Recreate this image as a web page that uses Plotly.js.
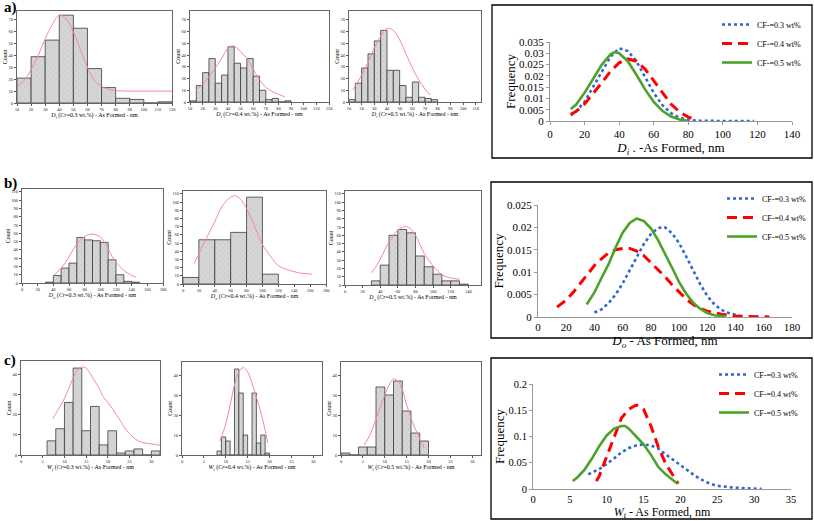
<!DOCTYPE html>
<html><head><meta charset="utf-8">
<script src="https://cdn.plot.ly/plotly-3.0.1.min.js"></script>
<style>html,body{margin:0;padding:0;background:#fff}#chart{width:814px;height:521px}</style>
</head><body><div id="chart"></div>
<script>
// ---------- Row a : inner diameter histograms ----------
const a1Bins=[10,20,30,40,50,60,70,80,90,100,110];
const a1Counts=[21,39,53,74,63,29,13,4,3,0,1];
const a1FitX=[11,15,20,25,30,35,40,45,50,55,60,65,70,75,80,90,100,110,120];
const a1FitY=[14.5,19,28,40,54,66,74,71,60,45,30,19,14,11.5,10.5,10,10,10,10];

const a2Bins=[10,15,20,25,30,35,40,45,50,55,60,65,70,75,80,85];
const a2Counts=[1,14,25,37,16,23,47,33,29,37,22,10,2,3,0,1];
const a2FitX=[14.5,20,25,30,35,40,43,46,50,55,60,65,70,75,80,85];
const a2FitY=[10,15,21.5,29,37,46,47.7,47,43,37,28,19,12.5,9,6.5,4.5];

const a3Bins=[10,15,20,25,30,35,40,45,50,55,60,65,70,75];
const a3Counts=[2,16,29,41,52,61,27,27,14,4,17,4,3,2];
const a3FitX=[13,20,25,30,35,40,45,50,55,60,65,70,74];
const a3FitY=[10,23,34,46,56,62.5,61,53,41,29,19,11,6];

// ---------- Row b : outer diameter histograms ----------
const b1Bins=[30,40,50,60,70,80,90,100,110,120,130,140];
const b1Counts=[1,9,18,24,55,52,51,49,28,10,2,1];
const b1FitX=[40,45,50,55,60,65,70,75,80,85,90,95,100,105,110,115,120,125,130,135,140,146];
const b1FitY=[9,13,18,24,32,40,47,52,56,58.5,59,58,55.5,50,41,32,25,20,15,12,9,7];

const b2Bins=[0,20,40,60,80,100];
const b2Counts=[8,54,54,63,106,12];
const b2FitX=[14,20,30,40,50,60,66,72,80,90,100,110,120,130,140,150,162];
const b2FitY=[25,37,57,76,96,106,107.5,104,92,71,48,34,22.5,18,15,13,12];

const b3Bins=[30,40,50,60,70,80,90,100,110,120,130];
const b3Counts=[5,24,60,67,63,35,22,13,5,5,1];
const b3FitX=[30,35,40,45,50,55,60,65,70,75,80,85,90,95,100,105,110,115,120,125,130];
const b3FitY=[15,22,31,42,52,60,66,69.5,70.5,67,60,49,38,30,23,17,12.5,10,8.5,7.5,7];

// ---------- Row c : wall thickness histograms ----------
const c1Bins=[6,8,10,12,14,16,18,20,22,24,26,28,30];
const c1Counts=[7,13,26,43,12,24,5,12,1,2,3,0,2];
const c1FitX=[7.3,8,9,10,11,12,13,14,15,16,17,18,19,20,21,22,23,24,25,26,27,28,29,30,32];
const c1FitY=[18,20.5,24,28,33,38,42,43.5,43,40,36.5,33,28.5,26,23,19.7,16.5,13,10.5,8.5,7,6.2,5.8,5.5,4.8];

const c2Bins=[8,9,10,11,12,13,14,15,16,17,18,19];
const c2Counts=[2,9,7,0,43,31,10,0,31,6,10,1];
const c2FitX=[8.6,9,10,11,12,13,14,15,16,17,18,19,19.6];
const c2FitY=[7,9,15.5,25,35,41.5,43.7,41.5,36,29,21.5,12.5,6];

const c3Bins=[0,2,4,6,8,10,12,14,16,18];
const c3Counts=[1,0,4,4,34,30,37,22,11,7];
const c3FitX=[5.3,6,7,8,9,10,11,12,13,14,15,16,17,18,19];
const c3FitY=[5,7.5,12,18,24,30,35,38,37,33,25,18.5,13,8,3.5];

// ---------- Frequency curves ----------
const seriesNames=['CF-=0.3 wt%','CF-=0.4 wt%','CF-=0.5 wt%'];

const aBlueX=[12,15,20,25,30,35,40,45,50,55,60,65,70,75,80,85,90,100,110,118];
const aBlueY=[0.0025,0.0042,0.0085,0.015,0.022,0.0285,0.0322,0.031,0.0265,0.0195,0.0125,0.007,0.0035,0.0014,0.0005,0.0001,0,0,0,0];
const aRedX=[12,15,20,25,30,35,40,45,50,55,60,65,70,75,80,85];
const aRedY=[0.003,0.0042,0.0075,0.012,0.017,0.022,0.0258,0.0275,0.0265,0.023,0.018,0.0125,0.0075,0.004,0.0017,0.0005];
const aGreenX=[12,15,20,25,30,35,37.5,40,45,50,55,60,65,70,75,79];
const aGreenY=[0.0053,0.0072,0.0125,0.019,0.025,0.0295,0.0305,0.03,0.0265,0.0205,0.014,0.0085,0.0045,0.002,0.0007,0.0002];

const bBlueX=[40,45,50,55,60,65,70,75,80,85,88,90,95,100,105,110,115,120,125,130,135,140,143];
const bBlueY=[0.001,0.0017,0.0031,0.005,0.0075,0.0105,0.0135,0.0163,0.0185,0.0198,0.0201,0.02,0.0187,0.0165,0.0135,0.0103,0.0073,0.0047,0.0028,0.0016,0.0009,0.0005,0.0003];
const bRedX=[13.5,20,25,30,35,40,45,50,55,60,65,70,75,80,85,90,95,100,105,110,115,120,130,140,150,164];
const bRedY=[0.0022,0.0038,0.0055,0.0075,0.0095,0.0115,0.013,0.0143,0.015,0.0153,0.0153,0.0147,0.0137,0.0122,0.0107,0.009,0.0072,0.0055,0.004,0.0028,0.0019,0.0013,0.0006,0.0002,0.0001,0];
const bGreenX=[34.5,40,45,50,55,60,65,70,75,80,85,90,95,100,105,110,115,120,125,133];
const bGreenY=[0.0028,0.0055,0.0087,0.0118,0.0155,0.0188,0.021,0.022,0.0214,0.0198,0.0172,0.0142,0.011,0.0078,0.0052,0.0032,0.0018,0.0009,0.0004,0.0001];

const cBlueX=[7.5,8,9,10,11,12,13,14,15,16,17,18,19,20,21,22,23,24,25,26,27,28,29,30,31];
const cBlueY=[0.028,0.031,0.038,0.048,0.058,0.07,0.078,0.083,0.085,0.083,0.077,0.066,0.056,0.045,0.035,0.025,0.017,0.01,0.006,0.004,0.003,0.002,0.001,0.0004,0.0002];
const cRedX=[8.6,9,10,11,12,13,14,14.5,15,16,17,18,19,19.7];
const cRedY=[0.015,0.025,0.062,0.1,0.135,0.152,0.16,0.158,0.152,0.12,0.08,0.048,0.024,0.01];
const cGreenX=[5.4,6,7,8,9,10,11,12,12.5,13,14,15,16,17,18,19,19.6];
const cGreenY=[0.015,0.022,0.037,0.058,0.082,0.102,0.115,0.12,0.12,0.115,0.1,0.085,0.065,0.042,0.028,0.016,0.01];

// ---------- Layout helpers ----------
const W=814,H=521;
const FONT='Liberation Serif, Times New Roman, serif';
const xdom=(l,r)=>[l/W,r/W];
const ydom=(t,b)=>[1-b/H,1-t/H];

const hists=[
 {n:1,px:[17,172],py:[11,103],xr:[10,120],xd:10,yr:[0,77.5],yd:10,bins:a1Bins,counts:a1Counts,bw:10,fx:a1FitX,fy:a1FitY,t:'<i>D<sub>i</sub></i> (<i>Cr</i>=0.3 wt.%) - As Formed - nm'},
 {n:2,px:[190,329],py:[11,102],xr:[10,120],xd:10,yr:[0,77.5],yd:10,bins:a2Bins,counts:a2Counts,bw:5,fx:a2FitX,fy:a2FitY,t:'<i>D<sub>i</sub></i> (<i>Cr</i>=0.4 wt.%) - As Formed - nm'},
 {n:3,px:[349,481],py:[11,102],xr:[10,114.2],xd:10,yr:[0,77.5],yd:10,bins:a3Bins,counts:a3Counts,bw:5,fx:a3FitX,fy:a3FitY,t:'<i>D<sub>i</sub></i> (<i>Cr</i>=0.5 wt.%) - As Formed - nm'},
 {n:5,px:[22,163],py:[189,283],xr:[0,180],xd:20,yr:[0,113.5],yd:10,bins:b1Bins,counts:b1Counts,bw:10,fx:b1FitX,fy:b1FitY,t:'<i>D<sub>o</sub></i> (<i>Cr</i>=0.3 wt.%) - As Formed - nm'},
 {n:6,px:[183,326],py:[191,284],xr:[0,180],xd:20,yr:[0,113.5],yd:10,bins:b2Bins,counts:b2Counts,bw:20,fx:b2FitX,fy:b2FitY,t:'<i>D<sub>o</sub></i> (<i>Cr</i>=0.4 wt.%) - As Formed - nm'},
 {n:7,px:[345,481],py:[191,285],xr:[0,154.4],xd:20,yr:[0,113.5],yd:10,bins:b3Bins,counts:b3Counts,bw:10,fx:b3FitX,fy:b3FitY,t:'<i>D<sub>o</sub></i> (<i>Cr</i>=0.5 wt.%) - As Formed - nm'},
 {n:9,px:[21,160],py:[361,455],xr:[0,32],xd:5,yr:[0,46.5],yd:10,bins:c1Bins,counts:c1Counts,bw:2,fx:c1FitX,fy:c1FitY,t:'<i>W<sub>t</sub></i> (<i>Cr</i>=0.3 wt.%) - As Formed - nm'},
 {n:10,px:[182,322],py:[362,455],xr:[0,32],xd:5,yr:[0,46.5],yd:10,bins:c2Bins,counts:c2Counts,bw:1,fx:c2FitX,fy:c2FitY,t:'<i>W<sub>t</sub></i> (<i>Cr</i>=0.4 wt.%) - As Formed - nm'},
 {n:11,px:[341,481],py:[362,455],xr:[0,32],xd:5,yr:[0,46.5],yd:10,bins:c3Bins,counts:c3Counts,bw:2,fx:c3FitX,fy:c3FitY,t:'<i>W<sub>t</sub></i> (<i>Cr</i>=0.5 wt.%) - As Formed - nm'}
];

const freqs=[
 {n:4,px:[550,792],py:[42,121],xr:[0,140],xd:20,yr:[0,0.035],yd:0.005,leg:'legend',xticks:'outside',tfs:11,tsize:13,tstand:3,
  xs:[aBlueX,aRedX,aGreenX],ys:[aBlueY,aRedY,aGreenY],t:'<i>D<sub>i</sub></i> . -As Formed, nm',frame:[492,812,5,158]},
 {n:8,px:[538,792],py:[205,317],xr:[0,180],xd:20,yr:[0,0.025],yd:0.005,leg:'legend2',xticks:'',tfs:11,tsize:13,tstand:0,
  xs:[bBlueX,bRedX,bGreenX],ys:[bBlueY,bRedY,bGreenY],t:'<i>D<sub>o</sub></i> - As Formed, nm',frame:[491,812,182,338]},
 {n:12,px:[533,791],py:[384,489],xr:[0,35],xd:5,yr:[0,0.2],yd:0.05,leg:'legend3',xticks:'',tfs:10.5,tsize:12,tstand:1,
  xs:[cBlueX,cRedX,cGreenX],ys:[cBlueY,cRedY,cGreenY],t:'<i>W<sub>t</sub></i> - As Formed, nm',frame:[491,812,358,519]}
];

const lineStyles=[
 {color:'#3366cc',width:2.6,dash:'dot'},
 {color:'#ff0000',width:3,dash:'10px,6px'},
 {color:'#4da32a',width:2.6,dash:'solid'}
];

const traces=[];
const layout={
 width:W,height:H,margin:{l:0,r:0,t:0,b:0},
 paper_bgcolor:'#fff',plot_bgcolor:'#fff',
 font:{family:FONT,color:'#000'},
 hovermode:false,bargap:0,showlegend:true,
 shapes:[],annotations:[]
};
const key=(p,n)=>p+'axis'+(n===1?'':n);

hists.forEach(h=>{
 traces.push({type:'bar',x:h.bins,y:h.counts,width:h.bw,offset:0,
  xaxis:'x'+h.n,yaxis:'y'+h.n,showlegend:false,
  marker:{color:'#d6d6d6',line:{color:'#3a3a3a',width:0.8},
   pattern:{shape:'x',fillmode:'overlay',fgcolor:'#9a9a9a',size:4,solidity:0.12}}});
 traces.push({type:'scatter',mode:'lines',x:h.fx,y:h.fy,line:{color:'#f58a9b',width:1,shape:'spline'},
  xaxis:'x'+h.n,yaxis:'y'+h.n,showlegend:false});
 layout[key('x',h.n)]={domain:xdom(...h.px),range:h.xr,dtick:h.xd,tick0:0,anchor:'y'+h.n,
  showline:true,mirror:true,linecolor:'#666',linewidth:1,ticks:'outside',ticklen:2,tickcolor:'#555',
  showgrid:false,zeroline:false,tickfont:{size:4.5,family:FONT,color:'#222'},
  title:{text:h.t,font:{size:6,family:FONT},standoff:1}};
 layout[key('y',h.n)]={domain:ydom(...h.py),range:h.yr,dtick:h.yd,anchor:'x'+h.n,
  showline:true,mirror:true,linecolor:'#666',linewidth:1,ticks:'outside',ticklen:2,tickcolor:'#555',
  showgrid:false,zeroline:false,tickfont:{size:4.5,family:FONT,color:'#222'},
  title:{text:'Count',font:{size:6,family:FONT},standoff:0}};
});

freqs.forEach(f=>{
 f.xs.forEach((xs,i)=>{
  traces.push({type:'scatter',mode:'lines',x:xs,y:f.ys[i],name:seriesNames[i],legend:f.leg,
   line:Object.assign({},lineStyles[i]),xaxis:'x'+f.n,yaxis:'y'+f.n});
 });
 layout[key('x',f.n)]={domain:xdom(...f.px),range:f.xr,dtick:f.xd,tick0:0,anchor:'y'+f.n,
  showline:true,linecolor:'#999',linewidth:1,ticks:f.xticks,ticklen:3,tickcolor:'#999',
  showgrid:false,zeroline:false,tickfont:{size:f.tfs,family:FONT},
  title:{text:f.t,font:{size:f.tsize,family:FONT},standoff:f.tstand}};
 layout[key('y',f.n)]={domain:ydom(...f.py),range:f.yr,dtick:f.yd,anchor:'x'+f.n,
  showline:true,linecolor:'#999',linewidth:1,ticks:'outside',ticklen:3,tickcolor:'#999',
  showgrid:false,zeroline:false,tickfont:{size:f.tfs,family:FONT},
  title:{text:'Frequency',font:{size:13,family:FONT},standoff:0}};
 layout.shapes.push({type:'rect',xref:'paper',yref:'paper',
  x0:f.frame[0]/W,x1:f.frame[1]/W,y0:1-f.frame[3]/H,y1:1-f.frame[2]/H,line:{color:'#000',width:1.3}});
});

const legBase={xanchor:'left',yanchor:'top',font:{family:FONT,size:8,color:'#000'},
 bgcolor:'rgba(255,255,255,0)',borderwidth:0,tracegroupgap:0,itemwidth:30};
layout.legend=Object.assign({},legBase,{x:717/W,y:1-10/H});
layout.legend2=Object.assign({},legBase,{x:722/W,y:1-184/H});
layout.legend3=Object.assign({},legBase,{x:714/W,y:1-360/H});

[['a)',8],['b)',183],['c)',360]].forEach(([t,y])=>{
 layout.annotations.push({text:'<b>'+t+'</b>',xref:'paper',yref:'paper',x:2/W,y:1-y/H,
  xanchor:'left',yanchor:'middle',showarrow:false,font:{family:FONT,size:15,color:'#000'}});
});

Plotly.newPlot('chart',traces,layout,{displayModeBar:false,staticPlot:true});
</script>
</body></html>
